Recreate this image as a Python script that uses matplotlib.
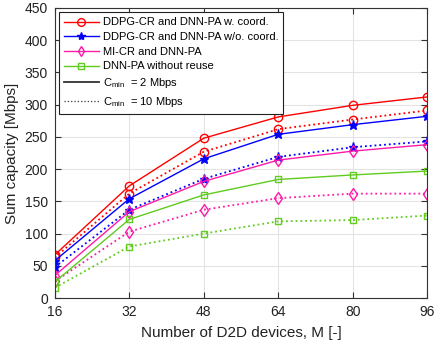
import matplotlib
matplotlib.use("Agg")
import matplotlib.pyplot as plt
from matplotlib.lines import Line2D

plt.rcParams["font.family"] = ["Liberation Sans", "DejaVu Sans"]

devices = [16, 32, 48, 64, 80, 96]

# C_min = 2 Mbps (solid)
ddpg_coord_2 = [67, 174, 248, 281, 299, 312]
ddpg_nocoord_2 = [58, 154, 216, 254, 269, 282]
micr_2 = [35, 134, 181, 214, 228, 238]
noreuse_2 = [25, 122, 160, 184, 191, 197]

# C_min = 10 Mbps (dotted)
ddpg_coord_10 = [63, 162, 227, 262, 277, 291]
ddpg_nocoord_10 = [48, 137, 185, 219, 234, 243]
micr_10 = [26, 103, 137, 155, 162, 162]
noreuse_10 = [16, 80, 100, 119, 121, 128]

names = ["DDPG-CR and DNN-PA w. coord.", "DDPG-CR and DNN-PA w/o. coord.",
         "MI-CR and DNN-PA", "DNN-PA without reuse"]
colors = ["#ff0000", "#0000ff", "#ff1aa8", "#5fcc1e"]
markers = ["o", "*", "d", "s"]
sizes = [6, 6.5, 6, 5]

fig = plt.figure(figsize=(4.35, 3.47), dpi=100)
ax = fig.add_axes([0.126, 0.141, 0.856, 0.836])

solid = [ddpg_coord_2, ddpg_nocoord_2, micr_2, noreuse_2]
dotted = [ddpg_coord_10, ddpg_nocoord_10, micr_10, noreuse_10]
for i in range(4):
    face = colors[i] if markers[i] == "*" else "none"
    ax.plot(devices, solid[i], color=colors[i], marker=markers[i], ms=sizes[i],
            mfc=face, mew=1.0, lw=1.0, ls="-")
    ax.plot(devices, dotted[i], color=colors[i], marker=markers[i], ms=sizes[i],
            mfc=face, mew=1.0, lw=1.3, ls=":")

ax.set_xlim(16, 96)
ax.set_ylim(0, 450)
ax.set_xticks(devices)
ax.set_yticks(range(0, 451, 50))
ax.grid(True, color="#e3e3e3", lw=0.8)
ax.set_axisbelow(True)
ax.tick_params(direction="in", top=True, right=True, labelsize=10, length=4,
               color="#333333", labelcolor="#222222", pad=5)
for s in ax.spines.values():
    s.set_color("#333333")
    s.set_linewidth(0.8)
ax.set_xlabel("Number of D2D devices, M [-]", fontsize=11, color="#222222", labelpad=5)
ax.set_ylabel("Sum capacity [Mbps]", fontsize=11, color="#222222")

handles = []
for i in range(4):
    face = colors[i] if markers[i] == "*" else "none"
    handles.append(Line2D([], [], color=colors[i], marker=markers[i], ms=sizes[i] - 0.5,
                          mfc=face, mew=1.0, lw=1.0))
handles += [Line2D([], [], color="#333333", lw=1.3, ls="-"),
            Line2D([], [], color="#333333", lw=0.9, ls=":")]
labels = names + [r"C$_{\mathregular{min}}$  = 2 Mbps", r"C$_{\mathregular{min}}$  = 10 Mbps"]
leg = ax.legend(handles, labels, loc="upper left", fontsize=8, handlelength=3.1,
                frameon=True, fancybox=False, edgecolor="#222222", framealpha=1,
                borderaxespad=0.4, labelspacing=0.42, handletextpad=0.35, borderpad=0.45)
leg.get_frame().set_linewidth(0.8)

fig.savefig("out.png", dpi=100)
